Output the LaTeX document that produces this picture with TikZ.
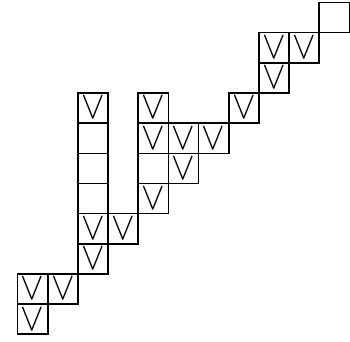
\documentclass[tikz,border=0pt]{standalone}
\usepackage{graphicx}
\tikzset{
  cell/.style={draw=black, line width=1.5pt, minimum size=1cm, inner sep=0pt, outer sep=0pt},
  vcell/.style={cell}
}
\newcommand{\vsym}{\resizebox{0.78cm}{0.72cm}{$\vee$}}
\begin{document}
\begin{tikzpicture}
\useasboundingbox (-0.585,-11.23) rectangle (11.02,0.083);
\foreach \c/\r in {10/0, 2/4, 2/5, 2/6, 4/5}
  \node[cell] (c\c-\r) at (\c+0.5,-\r-0.5) {};
\foreach \c/\r in {8/1, 9/1, 8/2, 2/3, 4/3, 7/3, 4/4, 5/4, 6/4, 5/5, 4/6, 2/7, 3/7, 2/8, 0/9, 1/9, 0/10}
  \node[vcell] (c\c-\r) at (\c+0.5,-\r-0.5) {\vsym};
\end{tikzpicture}
\end{document}
